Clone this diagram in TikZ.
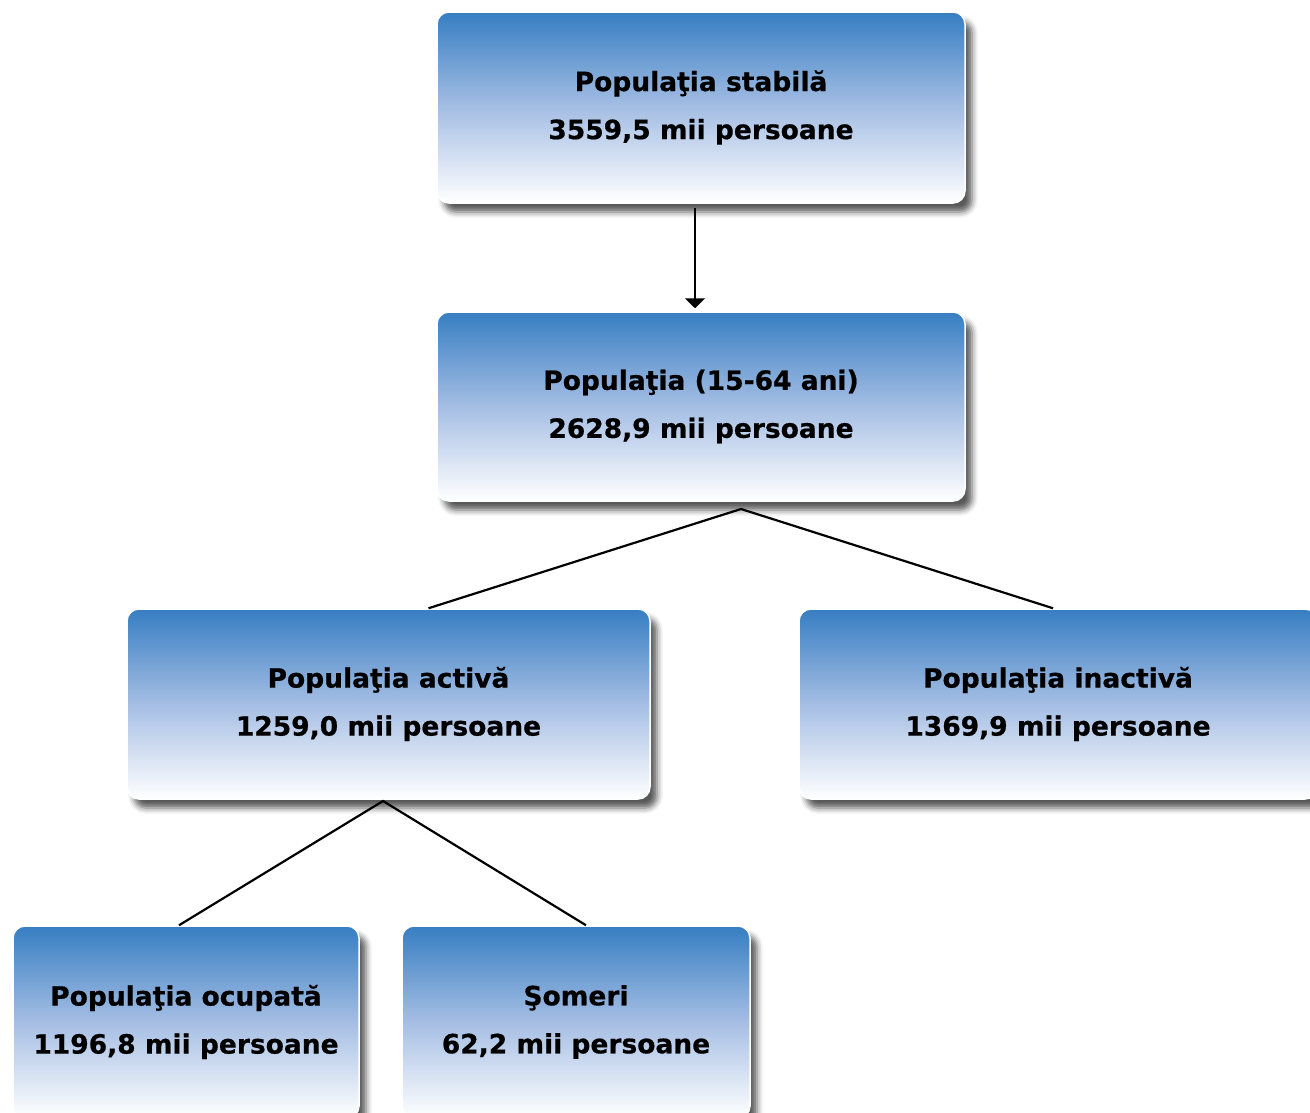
\documentclass[tikz,border=0pt]{standalone}
\usepackage{fontspec}
\setmainfont{DejaVu Sans}[BoldFeatures={FakeBold=0.6}]
\usetikzlibrary{shadows.blur,arrows.meta}
\definecolor{boxtop}{RGB}{54,126,194}
\tikzset{
  box/.style={rectangle, rounded corners=12pt, draw=white, line width=1.5pt,
    top color=boxtop, bottom color=white, middle color={rgb,255:red,165;green,190;blue,228},
    blur shadow={shadow xshift=7pt, shadow yshift=-9pt, shadow blur radius=6pt, shadow opacity=65},
    align=center, inner sep=0pt,
    font=\fontsize{26.5}{48}\selectfont\bfseries},
  conn/.style={line width=2.2pt, black},
}
\begin{document}
\begin{tikzpicture}[x=1pt,y=-1pt]
\useasboundingbox (0,0) rectangle (1310,1112);
\clip (0,0) rectangle (1310,1112);
\node[box, minimum width=528pt, minimum height=191pt] (top) at (701,107.5) {Populaţia stabilă\\3559,5 mii persoane};
\node[box, minimum width=528pt, minimum height=189pt] (pop) at (701,406.5) {Populaţia (15-64 ani)\\2628,9 mii persoane};
\node[box, minimum width=523pt, minimum height=190pt] (act) at (388.5,704) {Populaţia activă\\1259,0 mii persoane};
\node[box, minimum width=518pt, minimum height=190pt] (inact) at (1058,704) {Populaţia inactivă\\1369,9 mii persoane};
\node[box, minimum width=346pt, minimum height=192pt] (ocup) at (186,1022) {Populaţia ocupată\\1196,8 mii persoane};
\node[box, minimum width=348pt, minimum height=192pt] (som) at (576,1022) {Şomeri\\62,2 mii persoane};
\draw[conn, -{Triangle[width=20pt,length=10pt]}] ([xshift=-6pt,yshift=-4pt]top.south) -- ([xshift=-6pt,yshift=3pt]pop.north);
\coordinate (j1) at (741,509);
\coordinate (j2) at (383,801);
\draw[conn] ([xshift=40pt]act.north) -- (j1) -- ([xshift=-5pt]inact.north);
\draw[conn] ([xshift=-7pt]ocup.north) -- (j2) -- ([xshift=10pt]som.north);
\end{tikzpicture}
\end{document}
